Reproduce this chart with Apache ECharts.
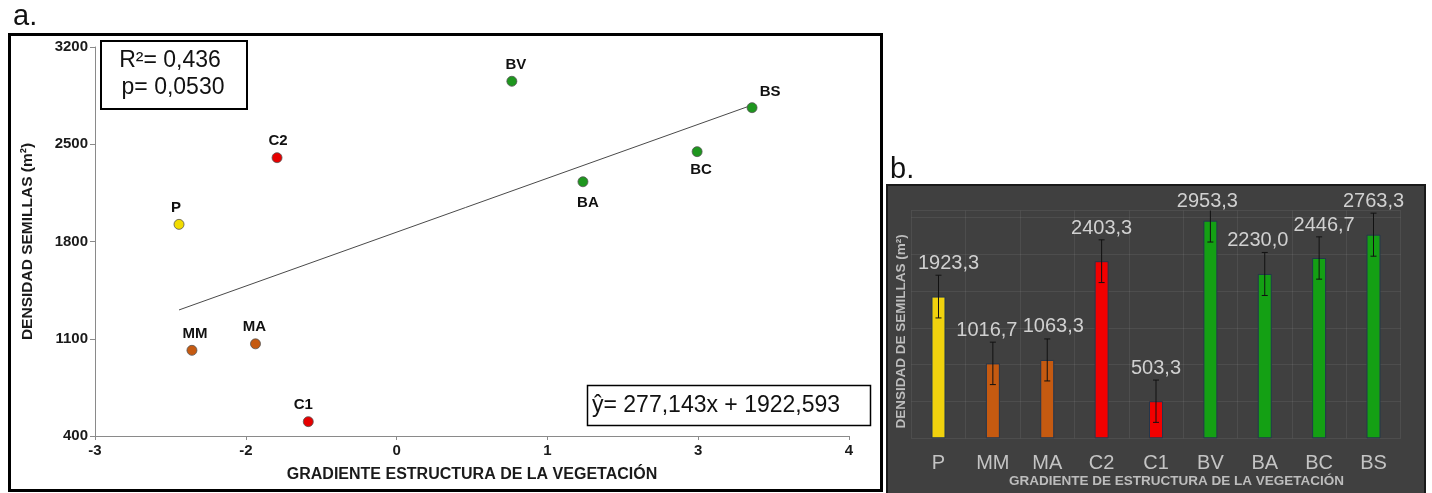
<!DOCTYPE html>
<html><head><meta charset="utf-8">
<script src="https://cdn.jsdelivr.net/npm/echarts@6/dist/echarts.min.js"></script>
<style>html,body{margin:0;padding:0;background:#fff}#c{width:1432px;height:493px}</style>
</head><body><div id="c"></div>
<script>
// ---- data ----
const categories = ['P', 'MM', 'MA', 'C2', 'C1', 'BV', 'BA', 'BC', 'BS'];
const gradientX = [-2.22, -2.10, -1.51, -1.31, -1.02, 0.87, 1.53, 2.59, 3.10];
const seedDensity = [1923.3, 1016.7, 1063.3, 2403.3, 503.3, 2953.3, 2230.0, 2446.7, 2763.3];
const densityError = [290, 288, 285, 290, 287, 290, 292, 287, 292];
const slope = 277.143;
const intercept = 1922.593;
const r2Text = 'R²= 0,436';
const pText = 'p= 0,0530';
const eqText = 'ŷ= 277,143x + 1922,593';

// ---- styles ----
const FONT = "'Liberation Sans', Arial, sans-serif";
const pointColor = {P:'#f2dc00', MM:'#c55a11', MA:'#c55a11', C2:'#e60000', C1:'#e60000', BV:'#1e961e', BA:'#1e961e', BC:'#1e961e', BS:'#1e961e'};
const barColor = {P:'#f0d20e', MM:'#c55a11', MA:'#c55a11', C2:'#f20000', C1:'#f20000', BV:'#14a014', BA:'#14a014', BC:'#14a014', BS:'#14a014'};
const pointLabelPlacement = {
  P:{position:'top', distance:4, offset:[-3,0]},
  MM:{position:'top', distance:4, offset:[3,0]},
  MA:{position:'top', distance:4, offset:[-1,0]},
  C2:{position:'top', distance:4, offset:[1,0]},
  C1:{position:'top', distance:4, offset:[-5,0]},
  BV:{position:'top', distance:4, offset:[4,0]},
  BA:{position:'bottom', distance:8, offset:[5,0]},
  BC:{position:'bottom', distance:5, offset:[4,0]},
  BS:{position:'top', distance:3, offset:[18,0]}
};
const barLabelShift = {P:10, MM:-6, MA:6, C2:0, C1:0, BV:-3, BA:-7, BC:5, BS:0};
const yMaxB = 3090;
const fmtComma = v => v.toFixed(1).replace('.', ',');

const scatterData = categories.map((c, i) => ({
  name: c,
  value: [gradientX[i], seedDensity[i]],
  itemStyle: {color: pointColor[c]},
  label: pointLabelPlacement[c]
}));
const xMin = Math.min(...gradientX), xMax = Math.max(...gradientX);
const trendData = [[xMin, slope * xMin + intercept], [xMax, slope * xMax + intercept]];

const barData = categories.map((c, i) => ({
  value: seedDensity[i],
  itemStyle: {color: barColor[c]},
  label: {distance: (seedDensity[i] + densityError[i] > yMaxB) ? 9 : 23}
}));
const errData = categories.map((c, i) => [i, seedDensity[i] - densityError[i], seedDensity[i] + densityError[i]]);

const chart = echarts.init(document.getElementById('c'), null, {renderer: 'canvas'});
chart.setOption({
  backgroundColor: '#ffffff',
  animation: false,
  textStyle: {fontFamily: FONT},
  graphic: [
    {type:'rect', z:-10, shape:{x:9.5, y:34.5, width:872, height:456}, style:{fill:'#fff', stroke:'#000', lineWidth:3}},
    {type:'text', z:5, style:{text:'a.', x:13, y:17, fontSize:29, fontFamily:FONT, fill:'#111', align:'left', verticalAlign:'middle'}},
    {type:'rect', z:5, shape:{x:101, y:41, width:146, height:68}, style:{fill:'#fff', stroke:'#000', lineWidth:2}},
    {type:'text', z:6, style:{text:r2Text, x:170, y:61, fontSize:23, fontFamily:FONT, fill:'#111', align:'center', verticalAlign:'middle'}},
    {type:'text', z:6, style:{text:pText, x:173, y:88, fontSize:23, fontFamily:FONT, fill:'#111', align:'center', verticalAlign:'middle'}},
    {type:'rect', z:5, shape:{x:587.5, y:385.5, width:283, height:40}, style:{fill:'#fff', stroke:'#000', lineWidth:1.5}},
    {type:'text', z:6, style:{text:eqText, x:592, y:406, fontSize:23, fontFamily:FONT, fill:'#111', align:'left', verticalAlign:'middle'}},
    {type:'text', z:5, style:{text:'b.', x:890, y:170, fontSize:29, fontFamily:FONT, fill:'#111', align:'left', verticalAlign:'middle'}},
    {type:'rect', z:-10, shape:{x:887, y:185, width:538, height:310}, style:{fill:'#404040', stroke:'#1a1a1a', lineWidth:2}}
  ],
  grid: [
    {left:95, top:47, width:754, height:389, outerBoundsMode:'none'},
    {left:911.3, top:210.6, width:489.4, height:227.7, outerBoundsMode:'none'}
  ],
  xAxis: [
    {
      gridIndex:0, type:'value', min:-3, max:4, interval:1.4,
      name:'GRADIENTE ESTRUCTURA DE LA VEGETACIÓN', nameLocation:'middle', nameGap:31,
      nameTextStyle:{fontSize:16, fontWeight:'bold', color:'#1a1a1a', fontFamily:FONT},
      axisLine:{show:true, onZero:false, lineStyle:{color:'#8a8a8a', width:1}},
      axisTick:{show:true, length:4, lineStyle:{color:'#8a8a8a'}},
      axisLabel:{fontSize:15, fontWeight:'bold', color:'#1a1a1a', margin:7, formatter: v => String(Math.round(v)).replace('-0','0')},
      splitLine:{show:false}
    },
    {
      gridIndex:1, type:'category', data:categories,
      name:'GRADIENTE DE ESTRUCTURA DE LA VEGETACIÓN', nameLocation:'middle', nameGap:35,
      nameTextStyle:{fontSize:13.5, fontWeight:'bold', color:'#bdbdbd', fontFamily:FONT, padding:[0,0,0,41]},
      axisLine:{show:false}, axisTick:{show:false},
      axisLabel:{fontSize:20, color:'#c4c4c4', margin:15},
      splitLine:{show:true, lineStyle:{color:'rgba(255,255,255,0.07)', width:1}}
    }
  ],
  yAxis: [
    {
      gridIndex:0, type:'value', min:400, max:3200, interval:700,
      name:'DENSIDAD SEMILLAS (m²)', nameLocation:'middle', nameGap:59,
      nameTextStyle:{fontSize:15.5, fontWeight:'bold', color:'#1a1a1a', fontFamily:FONT},
      axisLine:{show:true, onZero:false, lineStyle:{color:'#8a8a8a', width:1}},
      axisTick:{show:true, length:5, lineStyle:{color:'#8a8a8a'}},
      axisLabel:{fontSize:15, fontWeight:'bold', color:'#1a1a1a', margin:7, formatter: v => String(v)},
      splitLine:{show:false}
    },
    {
      gridIndex:1, type:'value', min:0, max:yMaxB, interval:500,
      name:'DENSIDAD DE SEMILLAS (m²)', nameLocation:'middle', nameGap:3,
      nameTextStyle:{fontSize:13.5, fontWeight:'bold', color:'#bdbdbd', fontFamily:FONT, padding:[0,14,0,0]},
      axisLine:{show:false}, axisTick:{show:false}, axisLabel:{show:false},
      splitLine:{show:true, lineStyle:{color:'rgba(255,255,255,0.07)', width:1}}
    }
  ],
  series: [
    {
      type:'line', xAxisIndex:0, yAxisIndex:0, data:trendData, symbol:'none', silent:true,
      lineStyle:{color:'#4a4a4a', width:1}, z:2
    },
    {
      type:'scatter', xAxisIndex:0, yAxisIndex:0, data:scatterData, symbolSize:10,
      itemStyle:{borderColor:'#555', borderWidth:0.8, opacity:1},
      label:{show:true, formatter: p => p.name, fontSize:15, fontWeight:'bold', color:'#111', fontFamily:FONT},
      z:3
    },
    {
      type:'bar', xAxisIndex:1, yAxisIndex:1, data:barData, barWidth:14,
      itemStyle:{borderColor:'#24364c', borderWidth:1},
      label:{show:true, position:'top', fontSize:20, color:'#d0d0d0', fontFamily:FONT, formatter: p => fmtComma(p.value)},
      labelLayout: p => ({dx: barLabelShift[categories[p.dataIndex]], hideOverlap:false}),
      z:2
    },
    {
      type:'custom', xAxisIndex:1, yAxisIndex:1, data:errData, z:4, silent:true,
      renderItem: (params, api) => {
        const i = api.value(0);
        const top = api.coord([i, api.value(2)]);
        const bot = api.coord([i, api.value(1)]);
        const cs = params.coordSys;
        const clipped = top[1] < cs.y;
        const ty = clipped ? cs.y : top[1];
        const w = 3;
        const st = {stroke:'#111', lineWidth:1};
        const children = [
          {type:'line', shape:{x1:top[0], y1:ty, x2:bot[0], y2:bot[1]}, style:st},
          {type:'line', shape:{x1:bot[0]-w, y1:bot[1], x2:bot[0]+w, y2:bot[1]}, style:st}
        ];
        if (!clipped) children.push({type:'line', shape:{x1:top[0]-w, y1:ty, x2:top[0]+w, y2:ty}, style:st});
        return {type:'group', children};
      }
    }
  ]
});
</script></body></html>
